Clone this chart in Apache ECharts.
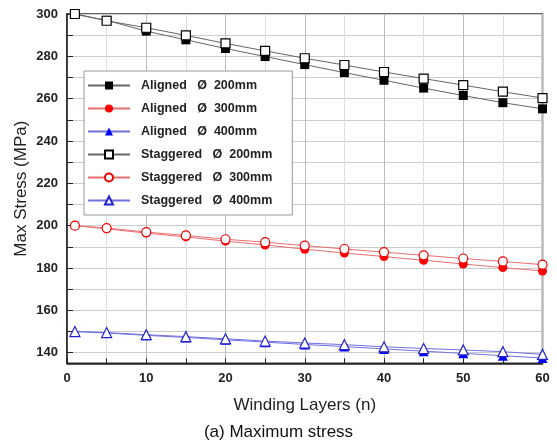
<!DOCTYPE html>
<html>
<head>
<meta charset="utf-8">
<script src="https://cdn.jsdelivr.net/npm/echarts@6/dist/echarts.min.js"></script>
<style>
  html, body { margin: 0; padding: 0; background: #fff; }
  #chart { width: 557px; height: 444px; }
</style>
</head>
<body>
<div id="chart"></div>
<script>
// winding layers where values were read
const layers = [1, 5, 10, 15, 20, 25, 30, 35, 40, 45, 50, 55, 60];

const aligned200 = [300, 297.0, 291.9, 287.8, 283.7, 279.9, 276.1, 272.3, 268.7, 265.0, 261.5, 258.1, 255.2];
const aligned300 = [200, 198.5, 196.5, 194.7, 192.7, 190.9, 188.9, 187.1, 185.4, 183.7, 181.9, 180.2, 178.6];
const aligned400 = [150, 149.3, 148.2, 147.2, 146.1, 145.0, 143.9, 142.9, 141.8, 140.7, 139.7, 138.6, 137.5];
const staggered200 = [300, 296.8, 293.5, 289.9, 286.1, 282.6, 279.1, 275.9, 272.6, 269.5, 266.4, 263.3, 260.3];
const staggered300 = [200, 198.9, 197.0, 195.4, 193.6, 192.2, 190.6, 189.0, 187.5, 186.0, 184.5, 183.1, 181.6];
const staggered400 = [150, 149.5, 148.5, 147.6, 146.6, 145.5, 144.6, 143.8, 142.8, 142.0, 141.3, 140.5, 139.2];

// y ticks / labels
const yTicks = [140, 150, 160, 170, 180, 190, 200, 210, 220, 230, 240, 250, 260, 270, 280, 290, 300];
const yLabels = [140, 160, 180, 200, 220, 240, 260, 280, 300];

const names = [
    'Aligned   Ø  200mm',
    'Aligned   Ø  300mm',
    'Aligned   Ø  400mm',
    'Staggered   Ø  200mm',
    'Staggered   Ø  300mm',
    'Staggered   Ø  400mm'
];

const pairs = (vals) => layers.map((x, i) => [x, vals[i]]);

const makeSeries = (name, vals, color, lineColor, symbol, size, filled) => ({
    name: name,
    type: 'line',
    data: pairs(vals),
    symbol: symbol,
    symbolSize: size,
    showAllSymbol: true,
    lineStyle: { color: lineColor, width: 1 },
    itemStyle: {
        color: filled ? color : '#fff',
        borderColor: color,
        borderWidth: filled ? 0 : 1.2
    },
    emphasis: { disabled: true },
    animation: false
});

const chart = echarts.init(document.getElementById('chart'), null, { renderer: 'canvas' });

chart.setOption({
    backgroundColor: '#fff',
    animation: false,
    grid: {
        left: 67, right: 14.5, top: 14, bottom: 80.7,
        show: true, borderColor: '#333', borderWidth: 1.5
    },
    title: {
        text: '(a) Maximum stress',
        left: 'center',
        bottom: 3,
        padding: 0,
        textStyle: { fontFamily: 'Liberation Sans', fontSize: 17, fontWeight: 'normal', color: '#111' }
    },
    legend: {
        orient: 'vertical',
        left: 84, top: 71,
        padding: [8, 20, 8, 3],
        backgroundColor: '#fff',
        borderColor: '#999',
        borderWidth: 1,
        itemWidth: 42,
        itemHeight: 10,
        itemGap: 10,
        textStyle: {
            fontFamily: 'Liberation Sans', fontSize: 12.5, fontWeight: 'bold',
            color: '#222', lineHeight: 13, padding: [0, 0, 0, 6]
        },
        data: names
    },
    xAxis: {
        type: 'value',
        min: 0, max: 60, interval: 5,
        name: 'Winding Layers (n)',
        nameLocation: 'middle',
        nameGap: 34,
        nameTextStyle: { fontFamily: 'Liberation Sans', fontSize: 17, color: '#222' },
        axisLine: { lineStyle: { color: '#222', width: 1.5 } },
        axisTick: { inside: true, length: 5, lineStyle: { color: '#222' } },
        axisLabel: {
            fontFamily: 'Liberation Sans', fontSize: 13, fontWeight: 'bold', color: '#222', margin: 9,
            formatter: (v) => (v % 10 === 0 ? String(v) : '')
        },
        splitLine: { show: true, lineStyle: { color: ['#bbb', '#ddd'], width: 1 } }
    },
    yAxis: {
        type: 'value',
        min: 135, max: 300,
        name: 'Max Stress (MPa)',
        nameLocation: 'middle',
        nameGap: 37,
        nameMoveOverlap: false,
        nameTextStyle: { fontFamily: 'Liberation Sans', fontSize: 17, color: '#222' },
        axisLine: { show: true, lineStyle: { color: '#222', width: 1.5 } },
        axisTick: { show: true, inside: true, length: 6, customValues: yTicks, lineStyle: { color: '#222' } },
        axisLabel: {
            fontFamily: 'Liberation Sans', fontSize: 13, fontWeight: 'bold', color: '#222', margin: 9,
            customValues: yLabels
        },
        splitLine: { show: true, lineStyle: { color: '#ccc', width: 1 } }
    },
    series: [
        makeSeries(names[0], aligned200, '#000', '#666', 'rect', 9, true),
        makeSeries(names[1], aligned300, '#f00', '#e87070', 'circle', 9, true),
        makeSeries(names[2], aligned400, '#00f', '#7070e0', 'triangle', 10, true),
        makeSeries(names[3], staggered200, '#000', '#666', 'rect', 9, false),
        makeSeries(names[4], staggered300, '#e00', '#e87070', 'circle', 9, false),
        makeSeries(names[5], staggered400, '#22c', '#7070e0', 'triangle', 10, false)
    ]
});
</script>
</body>
</html>
